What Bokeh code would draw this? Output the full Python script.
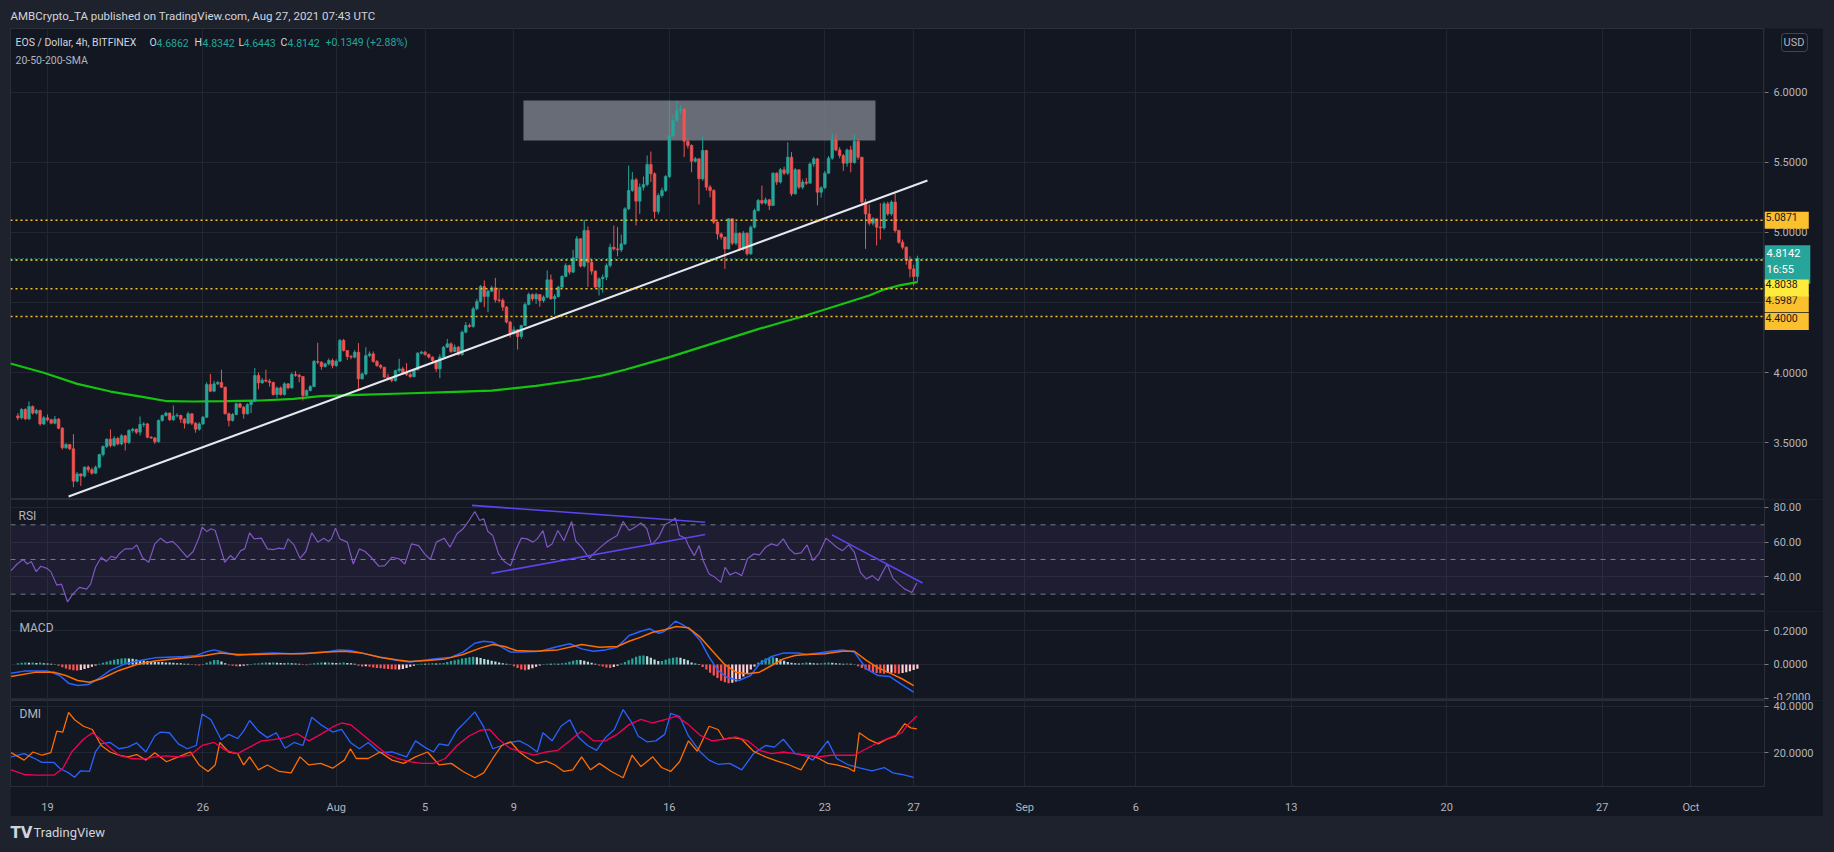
from bokeh.plotting import figure
from bokeh.models import (Range1d, FixedTicker, PrintfTickFormatter, Span, BoxAnnotation,
                          Label, ColumnDataSource, Grid, Spacer)
from bokeh.layouts import column, row
from bokeh.embed import file_html
from bokeh.resources import INLINE
from bokeh.core.properties import value

# ---------------------------------------------------------------- data
# 4h candles, EOS/USD (Bitfinex), last bar = Aug 27 04:00
open_ = [
 3.690, 3.676, 3.736, 3.669, 3.757, 3.710, 3.729, 3.633, 3.676, 3.662,
 3.638, 3.667, 3.602, 3.462, 3.486, 3.455, 3.224, 3.276, 3.260, 3.324,
 3.305, 3.281, 3.324, 3.414, 3.471, 3.524, 3.479, 3.529, 3.490, 3.548,
 3.500, 3.586, 3.595, 3.574, 3.629, 3.633, 3.538, 3.533, 3.505, 3.657,
 3.693, 3.710, 3.662, 3.690, 3.693, 3.667, 3.638, 3.705, 3.638, 3.595,
 3.633, 3.681, 3.914, 3.867, 3.919, 3.929, 3.895, 3.705, 3.657, 3.700,
 3.776, 3.752, 3.705, 3.771, 3.795, 3.979, 3.926, 3.945, 3.938, 3.929,
 3.843, 3.890, 3.843, 3.919, 3.890, 3.986, 3.980, 3.971, 3.836, 3.871,
 3.900, 4.079, 4.074, 4.043, 4.062, 4.086, 4.050, 4.081, 4.229, 4.157,
 4.114, 4.110, 4.145, 3.955, 3.990, 4.121, 4.133, 4.079, 4.050, 4.038,
 3.967, 3.955, 3.943, 4.014, 4.026, 3.995, 3.985, 3.971, 4.019, 4.138,
 4.145, 4.129, 4.110, 4.086, 4.026, 4.110, 4.181, 4.205, 4.150, 4.181,
 4.129, 4.288, 4.336, 4.329, 4.455, 4.507, 4.614, 4.543, 4.581, 4.605,
 4.519, 4.515, 4.467, 4.360, 4.281, 4.305, 4.257, 4.336, 4.486, 4.557,
 4.526, 4.557, 4.514, 4.538, 4.662, 4.526, 4.543, 4.610, 4.686, 4.764,
 4.717, 4.819, 4.955, 4.760, 5.014, 4.788, 4.724, 4.610, 4.669, 4.681,
 4.764, 4.895, 4.883, 4.876, 4.919, 5.169, 5.300, 5.376, 5.224, 5.324,
 5.343, 5.486, 5.419, 5.150, 5.264, 5.300, 5.400, 5.693, 5.800, 5.871,
 5.880, 5.652, 5.621, 5.509, 5.526, 5.383, 5.586, 5.324, 5.300, 5.074,
 4.990, 4.967, 4.883, 5.098, 4.924, 4.995, 4.883, 4.995, 4.848, 5.038,
 5.157, 5.229, 5.210, 5.233, 5.193, 5.424, 5.360, 5.448, 5.424, 5.538,
 5.276, 5.448, 5.324, 5.360, 5.352, 5.490, 5.526, 5.288, 5.319, 5.424,
 5.531, 5.662, 5.590, 5.550, 5.495, 5.590, 5.500, 5.652, 5.538, 5.217,
 5.133, 5.066, 5.098, 5.038, 5.033, 5.205, 5.133, 5.217, 5.014, 4.931,
 4.895, 4.805, 4.740, 4.6862]
high_ = [
 3.710, 3.745, 3.745, 3.793, 3.765, 3.740, 3.735, 3.690, 3.700, 3.670,
 3.690, 3.675, 3.610, 3.495, 3.490, 3.560, 3.290, 3.280, 3.330, 3.335,
 3.320, 3.335, 3.420, 3.480, 3.530, 3.593, 3.545, 3.540, 3.560, 3.555,
 3.595, 3.605, 3.600, 3.686, 3.645, 3.640, 3.545, 3.540, 3.665, 3.700,
 3.720, 3.715, 3.764, 3.710, 3.700, 3.675, 3.720, 3.710, 3.645, 3.645,
 3.690, 3.930, 3.990, 3.940, 3.940, 4.020, 3.900, 3.715, 3.710, 3.785,
 3.785, 3.760, 3.780, 3.805, 4.033, 4.000, 3.960, 4.020, 3.955, 3.935,
 3.900, 3.900, 3.930, 3.925, 4.000, 4.010, 3.990, 3.975, 3.880, 3.910,
 4.090, 4.212, 4.080, 4.070, 4.100, 4.100, 4.095, 4.240, 4.240, 4.160,
 4.125, 4.160, 4.210, 4.000, 4.181, 4.150, 4.150, 4.090, 4.060, 4.040,
 3.990, 3.965, 4.020, 4.098, 4.040, 4.067, 4.000, 4.025, 4.145, 4.155,
 4.155, 4.135, 4.115, 4.090, 4.130, 4.190, 4.240, 4.215, 4.200, 4.190,
 4.300, 4.360, 4.350, 4.470, 4.525, 4.625, 4.657, 4.590, 4.620, 4.676,
 4.605, 4.530, 4.475, 4.370, 4.330, 4.310, 4.340, 4.500, 4.570, 4.565,
 4.570, 4.560, 4.550, 4.729, 4.700, 4.560, 4.620, 4.695, 4.780, 4.770,
 4.876, 4.975, 4.960, 5.090, 5.043, 4.800, 4.730, 4.680, 4.700, 4.780,
 4.920, 5.050, 5.040, 4.985, 5.180, 5.478, 5.431, 5.390, 5.350, 5.400,
 5.550, 5.578, 5.430, 5.280, 5.320, 5.410, 5.940, 5.840, 5.940, 5.910,
 5.890, 5.670, 5.630, 5.540, 5.530, 5.685, 5.590, 5.340, 5.310, 5.080,
 5.000, 4.970, 5.100, 5.100, 5.074, 5.000, 5.010, 5.000, 5.050, 5.170,
 5.240, 5.335, 5.250, 5.240, 5.430, 5.430, 5.460, 5.470, 5.645, 5.574,
 5.460, 5.450, 5.380, 5.390, 5.500, 5.540, 5.530, 5.330, 5.440, 5.545,
 5.710, 5.700, 5.610, 5.560, 5.600, 5.620, 5.700, 5.670, 5.540, 5.240,
 5.200, 5.110, 5.100, 5.210, 5.220, 5.220, 5.230, 5.280, 5.020, 4.950,
 4.900, 4.830, 4.770, 4.8342]
low_ = [
 3.660, 3.665, 3.660, 3.660, 3.700, 3.700, 3.620, 3.625, 3.650, 3.630,
 3.630, 3.595, 3.450, 3.455, 3.445, 3.181, 3.215, 3.190, 3.250, 3.285,
 3.270, 3.275, 3.315, 3.400, 3.460, 3.465, 3.470, 3.480, 3.480, 3.443,
 3.490, 3.570, 3.560, 3.550, 3.610, 3.530, 3.525, 3.490, 3.500, 3.650,
 3.685, 3.655, 3.655, 3.680, 3.640, 3.600, 3.630, 3.625, 3.570, 3.585,
 3.625, 3.675, 3.860, 3.860, 3.910, 3.890, 3.700, 3.615, 3.650, 3.695,
 3.745, 3.670, 3.700, 3.710, 3.790, 3.880, 3.920, 3.930, 3.900, 3.835,
 3.820, 3.835, 3.835, 3.880, 3.885, 3.970, 3.930, 3.800, 3.830, 3.865,
 3.895, 4.060, 4.020, 4.035, 4.050, 4.030, 4.040, 4.075, 4.150, 4.090,
 4.095, 4.100, 3.870, 3.950, 3.980, 4.110, 4.070, 4.040, 4.025, 3.960,
 3.945, 3.930, 3.935, 4.000, 3.985, 3.975, 3.960, 3.965, 4.015, 4.130,
 4.120, 4.100, 4.075, 4.005, 3.960, 4.105, 4.175, 4.140, 4.145, 4.120,
 4.120, 4.280, 4.320, 4.320, 4.445, 4.500, 4.467, 4.431, 4.575, 4.500,
 4.500, 4.440, 4.350, 4.250, 4.270, 4.164, 4.240, 4.330, 4.480, 4.510,
 4.490, 4.470, 4.500, 4.530, 4.520, 4.414, 4.535, 4.600, 4.680, 4.700,
 4.710, 4.810, 4.750, 4.750, 4.610, 4.700, 4.600, 4.550, 4.570, 4.660,
 4.750, 4.870, 4.830, 4.860, 4.910, 5.160, 5.290, 5.050, 5.133, 5.300,
 5.330, 5.360, 5.100, 5.130, 5.250, 5.290, 5.390, 5.680, 5.790, 5.850,
 5.538, 5.600, 5.430, 5.500, 5.200, 5.370, 5.300, 5.250, 5.060, 4.950,
 4.950, 4.740, 4.880, 4.910, 4.910, 4.870, 4.870, 4.835, 4.840, 5.030,
 5.150, 5.200, 5.200, 5.160, 5.190, 5.340, 5.350, 5.410, 5.410, 5.260,
 5.270, 5.310, 5.310, 5.340, 5.350, 5.470, 5.193, 5.250, 5.310, 5.420,
 5.520, 5.580, 5.530, 5.440, 5.470, 5.430, 5.490, 5.520, 5.200, 4.883,
 5.050, 5.050, 4.907, 4.950, 5.020, 5.120, 5.120, 5.000, 4.920, 4.880,
 4.770, 4.680, 4.620, 4.6443]
close_ = [
 3.676, 3.736, 3.669, 3.757, 3.710, 3.729, 3.633, 3.676, 3.662, 3.638,
 3.667, 3.602, 3.462, 3.486, 3.455, 3.224, 3.276, 3.260, 3.324, 3.305,
 3.281, 3.324, 3.414, 3.471, 3.524, 3.479, 3.529, 3.490, 3.548, 3.500,
 3.586, 3.595, 3.574, 3.629, 3.633, 3.538, 3.533, 3.505, 3.657, 3.693,
 3.710, 3.662, 3.690, 3.693, 3.667, 3.638, 3.705, 3.638, 3.595, 3.633,
 3.681, 3.914, 3.867, 3.919, 3.929, 3.895, 3.705, 3.657, 3.700, 3.776,
 3.752, 3.705, 3.771, 3.795, 3.979, 3.926, 3.945, 3.938, 3.929, 3.843,
 3.890, 3.843, 3.919, 3.890, 3.986, 3.980, 3.971, 3.836, 3.871, 3.900,
 4.079, 4.074, 4.043, 4.062, 4.086, 4.050, 4.081, 4.229, 4.157, 4.114,
 4.110, 4.145, 3.955, 3.990, 4.121, 4.133, 4.079, 4.050, 4.038, 3.967,
 3.955, 3.943, 4.014, 4.026, 3.995, 3.985, 3.971, 4.019, 4.138, 4.145,
 4.129, 4.110, 4.086, 4.026, 4.110, 4.181, 4.205, 4.150, 4.181, 4.129,
 4.288, 4.336, 4.329, 4.455, 4.507, 4.614, 4.543, 4.581, 4.605, 4.519,
 4.515, 4.467, 4.360, 4.281, 4.305, 4.257, 4.336, 4.486, 4.557, 4.526,
 4.557, 4.514, 4.538, 4.662, 4.526, 4.543, 4.610, 4.686, 4.764, 4.717,
 4.819, 4.955, 4.760, 5.014, 4.788, 4.724, 4.610, 4.669, 4.681, 4.764,
 4.895, 4.883, 4.876, 4.919, 5.169, 5.300, 5.376, 5.224, 5.324, 5.343,
 5.486, 5.419, 5.150, 5.264, 5.300, 5.400, 5.693, 5.800, 5.871, 5.880,
 5.652, 5.621, 5.509, 5.526, 5.383, 5.586, 5.324, 5.300, 5.074, 4.990,
 4.967, 4.883, 5.098, 4.924, 4.995, 4.883, 4.995, 4.848, 5.038, 5.157,
 5.229, 5.210, 5.233, 5.193, 5.424, 5.360, 5.448, 5.424, 5.538, 5.276,
 5.448, 5.324, 5.360, 5.352, 5.490, 5.526, 5.288, 5.319, 5.424, 5.531,
 5.662, 5.590, 5.550, 5.495, 5.590, 5.500, 5.652, 5.538, 5.217, 5.133,
 5.066, 5.098, 5.038, 5.033, 5.205, 5.133, 5.217, 5.014, 4.931, 4.895,
 4.805, 4.740, 4.686, 4.8142]

# MACD histogram, one value per candle
macd_hist = [
 0.008, 0.010, 0.012, 0.010, 0.012, 0.009, 0.011, 0.008, 0.006, 0.004, 0.002,
 -0.008, -0.016, -0.024, -0.030, -0.034, -0.036, -0.032, -0.026, -0.020, -0.013, -0.006,
 0.004, 0.010, 0.016, 0.022, 0.028, 0.032, 0.035, 0.037, 0.036, 0.034, 0.030, 0.027, 0.023, 0.020,
 0.018, 0.016, 0.015, 0.014, 0.012, 0.011, 0.010, 0.008, 0.007, 0.005, 0.004, 0.002,
 -0.004, -0.006, -0.002,
 0.010, 0.018, 0.026, 0.027, 0.018, 0.007,
 -0.004, -0.008, -0.011, -0.010, -0.008, -0.005,
 0.003, 0.006, 0.008, 0.010, 0.011, 0.010, 0.012, 0.010, 0.009, 0.008, 0.010, 0.008, 0.006, 0.004,
 -0.003, -0.005,
 0.004, 0.007, 0.010, 0.012, 0.011, 0.012, 0.010, 0.009, 0.010, 0.011, 0.009, 0.007, 0.004,
 -0.008, -0.012, -0.010, -0.014, -0.018, -0.020, -0.022, -0.025, -0.027, -0.028, -0.030, -0.029,
 -0.026, -0.020, -0.014, -0.008,
 0.003, 0.005, 0.004, 0.006, 0.008, 0.006, 0.007, 0.009,
 0.014, 0.020, 0.025, 0.030, 0.035, 0.038, 0.043, 0.045, 0.042, 0.038, 0.032, 0.028, 0.022,
 0.018, 0.012, 0.008, 0.005, 0.002,
 -0.010, -0.020, -0.030, -0.034, -0.030, -0.022, -0.014, -0.006,
 0.003, 0.005, 0.004, 0.006, 0.005, 0.007, 0.010,
 0.016, 0.022, 0.027, 0.026, 0.022, 0.016, 0.010, 0.005,
 -0.006, -0.012, -0.018, -0.020, -0.015, -0.008,
 0.006, 0.015, 0.025, 0.035, 0.045, 0.052, 0.053, 0.048, 0.040, 0.030, 0.020,
 0.020, 0.028, 0.035, 0.040, 0.043, 0.040, 0.033, 0.025,
 0.012, 0.006, 0.003,
 -0.015, -0.030, -0.048, -0.065, -0.080, -0.095, -0.105, -0.110, -0.108, -0.100, -0.085, -0.070,
 -0.050, -0.030, -0.012,
 0.012, 0.025, 0.035, 0.040, 0.042, 0.038, 0.030, 0.022,
 0.015, 0.010, 0.008, 0.006, 0.009, 0.012, 0.010, 0.007, 0.006, 0.008, 0.010, 0.012, 0.010,
 0.008, 0.006, 0.005, 0.006, 0.004, 0.002,
 -0.010, -0.020, -0.030, -0.038, -0.045, -0.050, -0.052, -0.055, -0.050, -0.048, -0.052, -0.055,
 -0.050, -0.045, -0.040, -0.032, -0.025]

# time axis unit: days since Jul 19 00:00
sma_t = [-1.67, -0.17, 1.34, 2.84, 4.34, 5.39, 6.59, 8.09, 9.59, 11.09, 12.29, 14.0, 16.0, 18.0, 20.0,
         22.0, 24.0, 25.0, 26.0, 27.0, 28.0, 29.0, 30.0, 31.0, 32.0, 33.0, 34.0, 35.0, 36.0, 37.0,
         37.6, 38.3, 39.17]
sma_v = [4.064, 3.998, 3.919, 3.864, 3.824, 3.795, 3.793, 3.795, 3.800, 3.812, 3.831, 3.840, 3.850,
         3.860, 3.870, 3.905, 3.950, 3.980, 4.020, 4.065, 4.110, 4.160, 4.210, 4.260, 4.310, 4.355,
         4.400, 4.450, 4.500, 4.550, 4.590, 4.620, 4.645]

rsi_t = [-1.64, -1.37, -1.10, -0.91, -0.73, -0.51, -0.30, -0.03, 0.15, 0.42,
         0.63, 0.90, 1.14, 1.44, 1.76, 1.94, 2.16, 2.42, 2.64, 2.88,
         3.09, 3.22, 3.49, 3.81, 4.02, 4.29, 4.56, 4.83, 5.09, 5.36,
         5.63, 5.84, 6.03, 6.29, 6.56, 6.83, 6.96, 7.18, 7.36, 7.55,
         7.76, 7.98, 8.24, 8.43, 8.70, 8.88, 9.10, 9.31, 9.63, 9.90,
         10.17, 10.38, 10.65, 10.83, 11.10, 11.37, 11.63, 11.90, 12.17, 12.44,
         12.65, 12.78, 12.97, 13.16, 13.50, 13.77, 14.04, 14.30, 14.57, 14.92,
         15.19, 15.51, 15.83, 16.09, 16.39, 16.71, 16.98, 17.24, 17.51, 17.86,
         18.12, 18.44, 18.71, 18.98, 19.24, 19.46, 19.64, 19.83, 20.05, 20.31,
         20.58, 20.85, 21.11, 21.33, 21.59, 21.86, 22.05, 22.31, 22.50, 22.72,
         22.98, 23.25, 23.60, 23.78, 24.05, 24.40, 24.72, 24.98, 25.25, 25.65,
         25.92, 26.19, 26.45, 26.72, 26.99, 27.20, 27.52, 27.79, 28.06, 28.27,
         28.46, 28.72, 28.86, 29.12, 29.34, 29.52, 29.79, 30.06, 30.32, 30.51,
         30.72, 30.99, 31.26, 31.52, 31.79, 32.06, 32.33, 32.59, 32.86, 33.13,
         33.40, 33.66, 33.93, 34.20, 34.46, 34.73, 35.05, 35.27, 35.53, 35.80,
         36.07, 36.33, 36.60, 36.87, 37.14, 37.40, 37.80, 38.07, 38.34, 38.60,
         38.92, 39.14]
rsi_v = [43.6, 47.4, 50.0, 47.4, 48.8, 43.0, 46.1, 44.9, 43.0, 35.2,
         35.8, 25.6, 30.0, 33.9, 32.9, 35.8, 45.5, 51.3, 48.8, 51.9,
         50.8, 53.2, 56.1, 56.1, 58.4, 50.8, 48.4, 59.0, 62.3, 59.6,
         60.4, 58.0, 55.1, 51.3, 54.6, 62.9, 68.6, 66.1, 67.7, 66.7,
         58.0, 48.4, 52.3, 50.0, 55.1, 56.1, 65.4, 61.9, 62.3, 56.1,
         55.7, 56.5, 56.1, 61.9, 58.4, 50.7, 54.6, 65.4, 60.0, 62.3,
         60.4, 61.9, 68.1, 61.9, 60.0, 47.4, 56.1, 54.6, 51.3, 46.1,
         46.5, 51.3, 50.4, 47.4, 59.0, 58.0, 53.2, 50.0, 60.0, 62.3,
         57.1, 64.8, 67.7, 72.5, 77.7, 72.5, 73.5, 66.1, 63.8, 53.2,
         48.7, 46.4, 56.1, 62.3, 61.9, 60.0, 61.9, 66.7, 57.1, 59.0,
         66.7, 60.8, 71.9, 60.8, 57.0, 50.7, 55.1, 58.0, 60.8, 63.8,
         71.9, 66.7, 68.6, 71.1, 67.7, 58.4, 62.9, 70.0, 71.9, 73.9,
         63.8, 62.3, 58.0, 52.2, 58.0, 49.4, 41.6, 39.7, 36.8, 45.5,
         41.1, 42.6, 40.7, 50.4, 53.2, 52.7, 57.1, 59.0, 58.0, 61.9,
         56.1, 53.2, 53.8, 58.4, 49.4, 53.2, 62.3, 60.0, 57.1, 55.1,
         58.4, 54.2, 42.6, 38.7, 40.7, 37.8, 47.4, 39.1, 35.8, 32.9,
         31.0, 36.4]

macd_t = [-1.64, -1.05, 0.02, 0.55, 0.95, 1.36, 1.84, 2.29, 2.82, 3.49,
          4.29, 4.83, 5.36, 6.16, 6.70, 7.10, 7.50, 7.90, 8.56, 9.37,
          10.17, 10.97, 11.77, 12.57, 13.10, 13.64, 14.17, 14.97, 15.77, 16.31,
          16.84, 17.38, 18.18, 18.71, 19.24, 19.64, 20.05, 20.45, 20.85, 21.38,
          22.18, 22.98, 23.52, 24.05, 24.58, 25.12, 25.65, 26.19, 26.72, 27.12,
          27.52, 27.79, 28.27, 28.59, 28.99, 29.39, 29.79, 30.19, 30.59, 31.13,
          31.66, 32.06, 32.60, 33.13, 33.80, 34.20, 34.73, 35.27, 35.80, 36.33,
          36.87, 37.40, 37.93, 38.47, 39.00]
macd_v = [-0.051, -0.039, -0.039, -0.065, -0.110, -0.124, -0.118, -0.084, -0.035, 0.004,
          0.027, 0.039, 0.043, 0.047, 0.053, 0.073, 0.086, 0.073, 0.053, 0.063,
          0.067, 0.063, 0.067, 0.073, 0.086, 0.082, 0.067, 0.043, 0.024, 0.014,
          0.024, 0.033, 0.043, 0.073, 0.125, 0.137, 0.131, 0.102, 0.073, 0.073,
          0.078, 0.106, 0.122, 0.092, 0.078, 0.086, 0.102, 0.171, 0.196, 0.210,
          0.184, 0.196, 0.255, 0.235, 0.200, 0.141, 0.043, -0.035, -0.075, -0.094,
          -0.065, 0.004, 0.047, 0.067, 0.067, 0.059, 0.067, 0.078, 0.086, 0.073,
          -0.025, -0.065, -0.071, -0.118, -0.163]
signal_t = [-1.64, -0.51, 0.29, 0.82, 1.36, 1.89, 2.42, 3.22, 4.02, 4.83,
            5.63, 6.43, 7.10, 7.76, 8.56, 9.37, 10.43, 11.50, 12.57, 13.37,
            14.17, 14.97, 15.77, 16.31, 17.11, 17.91, 18.71, 19.51, 20.05, 20.58,
            21.11, 21.91, 22.98, 24.05, 24.85, 25.65, 26.19, 26.72, 27.25, 27.79,
            28.32, 28.86, 29.39, 29.92, 30.46, 30.99, 31.53, 32.06, 32.60, 33.13,
            33.66, 34.20, 35.00, 35.80, 36.33, 36.87, 37.40, 37.93, 38.47, 39.00]
signal_v = [-0.071, -0.045, -0.045, -0.065, -0.094, -0.104, -0.084, -0.035, 0.000, 0.020,
            0.033, 0.043, 0.053, 0.067, 0.059, 0.059, 0.063, 0.063, 0.073, 0.078,
            0.067, 0.043, 0.027, 0.018, 0.024, 0.033, 0.059, 0.098, 0.118, 0.106,
            0.082, 0.078, 0.086, 0.118, 0.102, 0.106, 0.137, 0.161, 0.190, 0.204,
            0.224, 0.216, 0.161, 0.082, 0.004, -0.045, -0.055, -0.045, -0.006, 0.033,
            0.053, 0.059, 0.063, 0.078, 0.078, 0.024, -0.020, -0.051, -0.084, -0.124]

pdi_t = [-1.64, -1.05, -0.65, -0.25, 0.29, 0.55, 0.95, 1.22, 1.49, 1.89,
         2.16, 2.42, 2.82, 3.22, 3.62, 4.02, 4.43, 4.83, 5.09, 5.49,
         5.89, 6.29, 6.70, 6.96, 7.36, 7.82, 8.16, 8.56, 8.83, 9.10,
         9.50, 9.90, 10.30, 10.70, 11.10, 11.50, 11.90, 12.30, 12.84, 13.24,
         13.64, 14.04, 14.44, 14.97, 15.51, 16.17, 16.57, 16.98, 17.38, 17.64,
         18.04, 18.44, 18.98, 19.24, 19.64, 20.05, 20.45, 20.85, 21.25, 21.65,
         22.05, 22.31, 22.72, 23.12, 23.52, 23.92, 24.32, 24.72, 25.12, 25.52,
         25.92, 26.32, 26.59, 26.99, 27.39, 27.79, 28.06, 28.46, 28.86, 29.39,
         29.79, 30.19, 30.72, 31.26, 31.79, 32.33, 32.73, 33.13, 33.66, 34.06,
         34.46, 34.86, 35.13, 35.53, 36.07, 36.60, 37.13, 37.67, 38.07, 38.47,
         39.00]
pdi_v = [18.2, 19.6, 17.8, 15.8, 15.8, 13.3, 11.3, 9.4, 12.2, 11.9,
         20.3, 23.8, 24.4, 21.7, 22.4, 24.2, 20.3, 27.2, 28.9, 28.6,
         23.8, 21.7, 23.1, 36.7, 34.2, 25.6, 27.9, 26.1, 29.3, 33.9,
         29.3, 26.5, 28.6, 21.9, 24.4, 23.1, 35.3, 32.1, 28.9, 30.0,
         24.4, 21.7, 24.4, 20.0, 20.3, 18.2, 25.1, 22.4, 20.3, 23.8,
         23.1, 29.7, 34.9, 37.6, 31.1, 21.7, 23.1, 24.4, 25.1, 23.1,
         20.3, 28.6, 25.1, 31.4, 34.2, 26.5, 23.1, 21.0, 26.5, 30.0,
         38.6, 32.8, 27.2, 24.7, 25.1, 27.9, 36.9, 35.6, 27.2, 20.3,
         16.8, 15.0, 15.4, 12.6, 19.6, 23.1, 22.4, 25.8, 19.6, 18.9,
         16.8, 21.7, 25.1, 17.5, 14.7, 13.3, 12.2, 13.6, 11.3, 10.6,
         9.4]
mdi_t = [-1.64, -1.05, -0.65, -0.25, 0.15, 0.42, 0.69, 0.95, 1.22, 1.62,
         2.02, 2.42, 2.82, 3.22, 3.62, 4.02, 4.43, 4.83, 5.36, 5.89,
         6.43, 6.83, 7.23, 7.55, 7.76, 8.16, 8.56, 8.83, 9.10, 9.50,
         9.90, 10.43, 10.97, 11.37, 11.77, 12.30, 12.84, 13.37, 13.64, 13.90,
         14.44, 14.97, 15.51, 16.04, 16.57, 17.11, 17.64, 18.18, 18.71, 19.24,
         19.64, 20.05, 20.45, 20.85, 21.25, 21.65, 22.05, 22.45, 22.85, 23.25,
         23.65, 24.05, 24.45, 24.85, 25.39, 25.92, 26.32, 26.72, 27.25, 27.65,
         28.06, 28.46, 28.86, 29.26, 29.79, 30.19, 30.46, 30.86, 31.26, 31.79,
         32.33, 32.86, 33.40, 33.93, 34.33, 34.73, 35.13, 35.53, 36.07, 36.33,
         36.55, 37.00, 37.40, 37.80, 38.20, 38.60, 38.87, 39.14]
mdi_v = [20.0, 16.8, 20.3, 18.9, 20.0, 29.3, 28.9, 37.4, 34.2, 31.4,
         30.0, 23.1, 20.3, 18.9, 18.2, 19.2, 16.8, 20.0, 16.1, 18.2,
         20.3, 14.7, 11.9, 14.7, 24.4, 20.3, 19.6, 14.7, 18.2, 12.6,
         14.7, 11.9, 11.3, 18.2, 14.7, 15.4, 13.3, 16.8, 21.7, 17.5,
         17.5, 20.3, 16.8, 15.4, 18.2, 20.3, 14.7, 15.4, 11.9, 9.2,
         11.3, 17.5, 23.1, 24.7, 20.3, 17.5, 15.4, 16.4, 14.7, 11.9,
         12.6, 18.2, 12.6, 15.4, 11.9, 9.2, 18.9, 14.0, 18.2, 13.6,
         11.9, 16.1, 25.1, 20.6, 31.4, 30.0, 25.8, 26.5, 25.8, 20.6,
         18.2, 16.4, 14.7, 12.6, 18.9, 17.5, 15.4, 14.7, 13.3, 11.9,
         28.6, 25.6, 23.8, 25.8, 27.2, 32.5, 30.7, 30.3]
adx_t = [-1.64, -1.05, -0.51, 0.29, 0.69, 1.09, 1.62, 2.02, 2.29, 2.69,
         3.22, 3.76, 4.29, 4.83, 5.36, 5.89, 6.43, 6.96, 7.50, 8.03,
         8.56, 9.10, 9.63, 10.17, 10.70, 11.24, 11.77, 12.30, 12.84, 13.24,
         13.64, 14.17, 14.70, 15.24, 15.77, 16.31, 16.84, 17.38, 17.91, 18.44,
         18.98, 19.51, 19.91, 20.31, 20.85, 21.38, 21.91, 22.45, 22.98, 23.52,
         24.05, 24.58, 25.12, 25.65, 26.19, 26.72, 27.25, 27.79, 28.32, 28.86,
         29.39, 29.92, 30.46, 30.99, 31.53, 32.06, 32.60, 33.13, 33.66, 34.20,
         34.73, 35.27, 35.80, 36.33, 36.87, 37.40, 37.93, 38.47, 38.74, 39.14]
adx_v = [12.6, 10.6, 10.3, 10.3, 13.3, 20.3, 25.8, 28.6, 26.5, 23.1,
         18.9, 17.5, 17.2, 18.2, 18.6, 18.2, 18.9, 23.1, 24.4, 21.0,
         19.6, 22.4, 25.1, 25.6, 26.5, 28.3, 25.1, 27.9, 31.1, 32.8,
         32.1, 27.9, 23.8, 19.6, 17.5, 16.1, 15.4, 15.4, 17.5, 23.1,
         27.2, 29.7, 30.0, 25.8, 21.7, 20.3, 18.9, 20.3, 21.0, 25.1,
         29.3, 25.1, 25.1, 27.9, 32.1, 34.4, 32.8, 34.2, 35.8, 32.1,
         27.5, 25.1, 25.8, 26.8, 25.1, 21.0, 19.6, 20.3, 19.6, 18.9,
         18.2, 18.9, 18.9, 18.9, 21.7, 24.4, 26.5, 28.6, 32.1, 35.8]

# drawings
trend_t = [0.95, 39.62]
trend_p = [3.114, 5.371]
rsi_line1_t, rsi_line1_v = [19.11, 29.61], [81.2, 71.5]
rsi_line2_t, rsi_line2_v = [19.99, 29.61], [42.0, 64.4]
rsi_line3_t, rsi_line3_v = [35.32, 39.40], [64.2, 36.4]
zone_days = (21.43, 37.28)
zone_prices = (5.657, 5.943)
levels = [5.0871, 4.8038, 4.5987, 4.4000]
level_colors = ["#fbc02d", "#ffeb3b", "#fbc02d", "#fbc02d"]
last_price = 4.8142

day_ticks = [0, 7, 13, 17, 21, 28, 35, 39, 44, 49, 56, 63, 70, 74]
day_labels = ["19", "26", "Aug", "5", "9", "16", "23", "27", "Sep", "6", "13", "20", "27", "Oct"]
price_ticks = [3.5, 4.0, 4.5, 5.0, 5.5, 6.0]
rsi_ticks = [40, 60, 80]
macd_ticks = [-0.2, 0.0, 0.2]
dmi_ticks = [20, 40]

# ---------------------------------------------------------------- style
BG = "#131722"
PAGE = "#1e222d"
GRID_C = "#222631"
FRAME = "#2a2e39"
TXT = "#d1d4dc"
AX = "#b2b5be"
UP = "#26a69a"
DOWN = "#ef5350"
FONT = "Roboto"

PAGE_W = 1834
CW = 1813          # chart block (x 10 .. 1823)
FW = 1754          # plot frame width
RB = CW - FW       # price scale width
xr = Range1d(-1.666, 77.31)


def panel(h, yr, yticks, fmt, bottom=0, axis=True):
    p = figure(width=CW if axis else FW, height=h, x_range=xr, y_range=Range1d(*yr),
               output_backend="svg", toolbar_location=None,
               y_axis_location="right" if axis else None,
               x_axis_location="below" if bottom else None,
               min_border_left=0, min_border_right=RB if axis else 0, min_border_top=0,
               min_border_bottom=bottom,
               background_fill_color=BG, border_fill_color=BG,
               outline_line_color=FRAME)
    for g in p.grid:
        g.visible = False
    p.add_layout(Grid(dimension=0, ticker=FixedTicker(ticks=day_ticks),
                      grid_line_color=GRID_C))
    p.add_layout(Grid(dimension=1, ticker=FixedTicker(ticks=yticks),
                      grid_line_color=GRID_C))
    if axis:
        ax = p.yaxis[0]
        ax.ticker = FixedTicker(ticks=yticks)
        ax.formatter = PrintfTickFormatter(format=fmt)
        ax.axis_line_color = None
        ax.major_tick_line_color = "#787b86"
        ax.major_tick_out = 4
        ax.major_tick_in = 0
        ax.minor_tick_line_color = None
        ax.major_label_text_color = AX
        ax.major_label_text_font_size = "11px"
        ax.major_label_text_font = FONT
        ax.major_label_standoff = 5
    if bottom:
        xa = p.xaxis[0]
        xa.ticker = FixedTicker(ticks=day_ticks)
        xa.major_label_overrides = {k: v for k, v in zip(day_ticks, day_labels)}
        xa.axis_line_color = None
        xa.major_tick_line_color = None
        xa.minor_tick_line_color = None
        xa.major_label_text_color = AX
        xa.major_label_text_font_size = "11px"
        xa.major_label_text_font = FONT
        xa.major_label_standoff = 8
    return p


def note(p, text, dx, dy, fh, color=AX, size="12px", style="normal", font=FONT):
    p.add_layout(Label(x=dx, y=fh - dy, x_units="screen", y_units="screen", text=text,
                       text_color=color, text_font_size=size, text_font=font,
                       text_font_style=style, text_baseline="middle", text_align="left"))


def bare(w, h, bg):
    f = figure(width=w, height=h, x_range=Range1d(0, w), y_range=Range1d(0, h),
               output_backend="svg", toolbar_location=None, x_axis_location=None,
               y_axis_location=None, min_border=0, background_fill_color=bg,
               border_fill_color=bg, outline_line_color=None)
    f.grid.visible = False
    return f


# ---------------------------------------------------------------- header
hdr = bare(PAGE_W, 28, PAGE)
note(hdr, "AMBCrypto_TA published on TradingView.com, Aug 27, 2021 07:43 UTC", 10, 15, 28,
     color=TXT, size="11.5px")

# ---------------------------------------------------------------- price
PH = 471
pp = panel(PH, (3.093, 6.457), price_ticks, "%.4f", axis=False)
pp.add_layout(BoxAnnotation(left=zone_days[0], right=zone_days[1], bottom=zone_prices[0],
                            top=zone_prices[1], fill_color="#787b86", fill_alpha=0.85,
                            line_color=None, level="underlay"))
N = len(close_)
last_day = 39 + 4 / 24
t = [last_day - (N - 1 - i) * 4 / 24 for i in range(N)]
cols = [UP if c >= o else DOWN for o, c in zip(open_, close_)]
src = ColumnDataSource(dict(t=t, o=open_, h=high_, l=low_, c=close_, col=cols,
                            top=[max(o, c) for o, c in zip(open_, close_)],
                            bot=[min(o, c) for o, c in zip(open_, close_)]))
pp.line(sma_t, sma_v, line_color="#15c40f", line_width=2.2)
pp.segment(x0="t", y0="l", x1="t", y1="h", source=src, line_color="col", line_width=1)
pp.vbar(x="t", width=0.12, top="top", bottom="bot", source=src, fill_color="col",
        line_color="col", line_width=0.6)
pp.line(trend_t, trend_p, line_color="#e6e8ee", line_width=2)
for lv, lc in zip(levels, level_colors):
    pp.add_layout(Span(location=lv, dimension="width", line_color=lc, line_width=1.5,
                       line_dash="2 3"))
pp.add_layout(Span(location=last_price, dimension="width", line_color=UP, line_width=1,
                   line_dash="1 3"))

note(pp, "EOS / Dollar, 4h, BITFINEX", 5, 14, PH, color=TXT, size="10.5px")
segs = [("O", 139, TXT), ("4.6862", 146, UP), ("H", 184, TXT), ("4.8342", 192, UP),
        ("L", 228, TXT), ("4.6443", 233, UP), ("C", 270, TXT), ("4.8142", 277, UP),
        ("+0.1349 (+2.88%)", 315, UP)]
for s, dx, c in segs:
    note(pp, s, dx, 14, PH, color=c, size="10.5px")
note(pp, "20-50-200-SMA", 5, 32, PH, color=AX, size="10.5px")

# price scale (right) drawn in its own strip, sharing the price range
ps = figure(width=RB, height=PH, x_range=Range1d(0, RB), y_range=pp.y_range,
            output_backend="svg", toolbar_location=None, x_axis_location=None,
            y_axis_location=None, min_border=0, background_fill_color=BG,
            border_fill_color=BG, outline_line_color=None)
ps.grid.visible = False
ps.segment(x0=0, y0=price_ticks, x1=4, y1=price_ticks, line_color="#787b86")
ps.text(x=9, y=price_ticks, text=[f"{v:.4f}" for v in price_ticks], text_color=AX,
        text_font=value(FONT), text_font_size="11px", text_baseline="middle")

# last price tag first, then the level tags stacked below it (lowest drawn first)
ps.add_layout(Label(x=0, y=last_price, x_units="screen", y_units="data",
                    text=f"{last_price:.4f}\n16:55", text_color="#ffffff",
                    text_font_size="11px", text_font=FONT, text_baseline="middle",
                    y_offset=-6, background_fill_color=UP, padding=(2, 10, 2, 8)))
tag_offsets = [0, -28, -15, -5]
order = [3, 2, 1, 0]
for k in order:
    lv, lc, off = levels[k], level_colors[k], tag_offsets[k]
    ps.add_layout(Label(x=0, y=lv, x_units="screen", y_units="data", text=f"{lv:.4f}",
                        text_color="#131722", text_font_size="10.5px", text_font=FONT,
                        text_baseline="middle", y_offset=off, text_line_height=1.0,
                        background_fill_color=lc, padding=(1, 11, 1, 8)))
ps.add_layout(Label(x=17, y=PH - 14, x_units="screen", y_units="screen", text="USD",
                    text_color=AX, text_font_size="11px", text_font=FONT,
                    text_baseline="middle", border_line_color="#434651",
                    border_line_width=1, border_radius=3, padding=(2, 3, 2, 3)))

# ---------------------------------------------------------------- RSI
RH = 112
pr = panel(RH, (20, 84.6), rsi_ticks, "%.2f")
pr.add_layout(BoxAnnotation(bottom=30, top=70, fill_color="#7e57c2", fill_alpha=0.1,
                            line_color=None, level="underlay"))
for lv in (70, 50, 30):
    pr.add_layout(Span(location=lv, dimension="width", line_color="#787b86", line_width=1,
                       line_dash="5 5"))
pr.line(rsi_t, rsi_v, line_color="#7e57c2", line_width=1.2)
for xs, ys in ((rsi_line1_t, rsi_line1_v), (rsi_line2_t, rsi_line2_v),
               (rsi_line3_t, rsi_line3_v)):
    pr.line(xs, ys, line_color="#5b45ee", line_width=1.6)
note(pr, "RSI", 8, 16, RH, color=AX, size="12px")

# ---------------------------------------------------------------- MACD
MH = 89
pm = panel(MH, (-0.212, 0.312), macd_ticks, "%.4f")
hcols = []
prev = 0.0
for v in macd_hist:
    if v >= 0:
        hcols.append("#26a69a" if v >= prev else "#b2dfdb")
    else:
        hcols.append("#ff5252" if v <= prev else "#ffcdd2")
    prev = v
pm.vbar(x=t, width=0.1, top=macd_hist, bottom=0, fill_color=hcols, line_color=None)
pm.line(macd_t, macd_v, line_color="#2962ff", line_width=1.5)
pm.line(signal_t, signal_v, line_color="#ff6d00", line_width=1.5)
note(pm, "MACD", 9, 16, MH, color=AX, size="12px")

# ---------------------------------------------------------------- DMI
DH = 89
pd_ = panel(DH + 27, (5.42, 42.5), dmi_ticks, "%.4f", bottom=27)
pd_.line(pdi_t, pdi_v, line_color="#2962ff", line_width=1.3)
pd_.line(mdi_t, mdi_v, line_color="#ff6d00", line_width=1.3)
pd_.line(adx_t, adx_v, line_color="#f50057", line_width=1.3)
note(pd_, "DMI", 9, 16, DH, color=AX, size="12px")

# ---------------------------------------------------------------- footer
ftr = bare(PAGE_W, 36, PAGE)
note(ftr, "TV", 10, 16, 36, color=TXT, size="15px", style="bold", font="DejaVu Sans")
note(ftr, "TradingView", 33, 16, 36, color=TXT, size="13px")

chart = column(row(pp, ps, spacing=0), pr, pm, pd_, spacing=0)
CH = PH + RH + MH + DH + 27
body = row(Spacer(width=10, height=CH), chart, Spacer(width=PAGE_W - 10 - CW, height=CH),
           spacing=0)
root = column(hdr, body, ftr, spacing=0)
style = "<style>html,body{background:#1e222d;}</style>"
open("out.html", "w").write(file_html(root, INLINE, title="EOS / Dollar").replace("</head>", style + "</head>"))
